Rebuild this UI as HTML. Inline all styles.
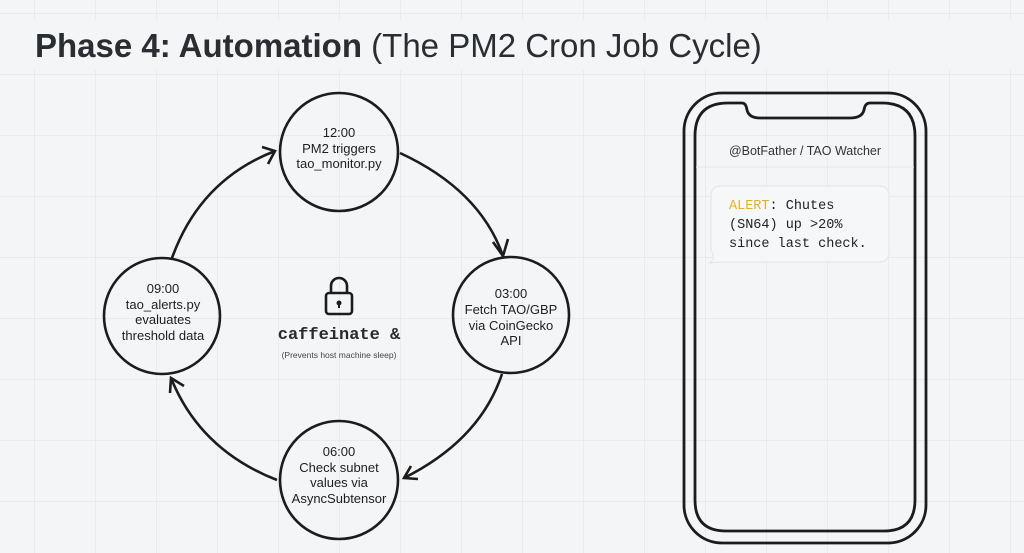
<!DOCTYPE html>
<html><head><meta charset="utf-8"><style>
html,body{margin:0;padding:0}
body{width:1024px;height:553px;overflow:hidden;background:#f4f5f7;font-family:"Liberation Sans",sans-serif;position:relative}
</style></head><body>
<svg width="1024" height="553" style="position:absolute;left:0;top:0" xmlns="http://www.w3.org/2000/svg">
<defs>
<pattern id="g" x="34" y="13" width="61" height="61" patternUnits="userSpaceOnUse">
<path d="M0 0V61M0 0H61" stroke="#e2e4e8" stroke-width="1.2" fill="none"/>
</pattern>
</defs>
<rect width="1024" height="553" fill="url(#g)"/>
<rect x="0" y="20" width="1024" height="50" fill="#f4f5f7"/>
<text x="35" y="57" font-size="33" fill="#2a2d31" font-family="Liberation Sans"><tspan font-weight="bold">Phase 4: Automation</tspan> (The PM2 Cron Job Cycle)</text>
<g fill="none" stroke="#1c1c1c" stroke-width="2.6">
<circle cx="339" cy="152" r="59"/>
<circle cx="511" cy="315" r="58"/>
<circle cx="339" cy="480" r="59"/>
<circle cx="162" cy="316" r="58"/>
<path d="M400 153 Q480 190 503 256"/>
<path d="M493 242 L503 256 L508 239"/>
<path d="M502 374 Q480 440 404 478"/>
<path d="M411 466 L404 478 L418 479"/>
<path d="M277 480 Q200 450 171 378"/>
<path d="M170 393 L171 378 L184 386"/>
<path d="M172 258 Q200 180 275 151"/>
<path d="M262 147 L275 151 L268 164"/>
<rect x="326" y="293" width="26" height="21" rx="3"/>
<path d="M331 293 V286 A8 8 0 0 1 347 286 V293" />
<rect x="684" y="93" width="242" height="450" rx="38" stroke-width="2.8"/>
<path d="M728 103 H742 Q746 103 747 110 Q749 118 760 118 H850 Q862 118 864 110 Q865 103 870 103 H882 Q915 103 915 136 V500 Q915 531 884 531 H726 Q695 531 695 500 V136 Q695 103 728 103 Z" stroke-width="2.8"/>
</g>
<circle cx="339" cy="303" r="2.5" fill="#1c1c1c"/>
<line x1="339" y1="303" x2="339" y2="308" stroke="#1c1c1c" stroke-width="2"/>
<line x1="696" y1="167" x2="914" y2="167" stroke="#e6e7ea" stroke-width="1"/>
<path d="M721 186 H879 Q889 186 889 196 V252 Q889 262 879 262 H722 Q716 262 710 263 Q716 258 711 250 V196 Q711 186 721 186 Z" fill="#f6f7f8" stroke="#e2e3e6"/>
<g font-size="13" fill="#1e1e1e" text-anchor="middle" font-family="Liberation Sans">
<text x="339" y="137">12:00</text><text x="339" y="153">PM2 triggers</text><text x="339" y="168">tao_monitor.py</text>
<text x="511" y="298">03:00</text><text x="511" y="314">Fetch TAO/GBP</text><text x="511" y="330">via CoinGecko</text><text x="511" y="345">API</text>
<text x="339" y="456">06:00</text><text x="339" y="472">Check subnet</text><text x="339" y="487">values via</text><text x="339" y="503">AsyncSubtensor</text>
<text x="163" y="293">09:00</text><text x="163" y="309">tao_alerts.py</text><text x="163" y="324">evaluates</text><text x="163" y="340">threshold data</text>
<text x="339" y="339" font-family="Liberation Mono" font-size="17" font-weight="bold" fill="#2a2a2a">caffeinate &amp;</text>
<text x="339" y="358" font-size="8.5" fill="#444">(Prevents host machine sleep)</text>
<text x="805" y="155" font-size="12.5" fill="#333">@BotFather / TAO Watcher</text>
</g>
<g font-family="Liberation Mono" font-size="13.5" fill="#222">
<text x="729" y="209"><tspan fill="#e0b030">ALERT</tspan>: Chutes</text>
<text x="729" y="228">(SN64) up &gt;20%</text>
<text x="729" y="247">since last check.</text>
</g>
</svg>
</body></html>
